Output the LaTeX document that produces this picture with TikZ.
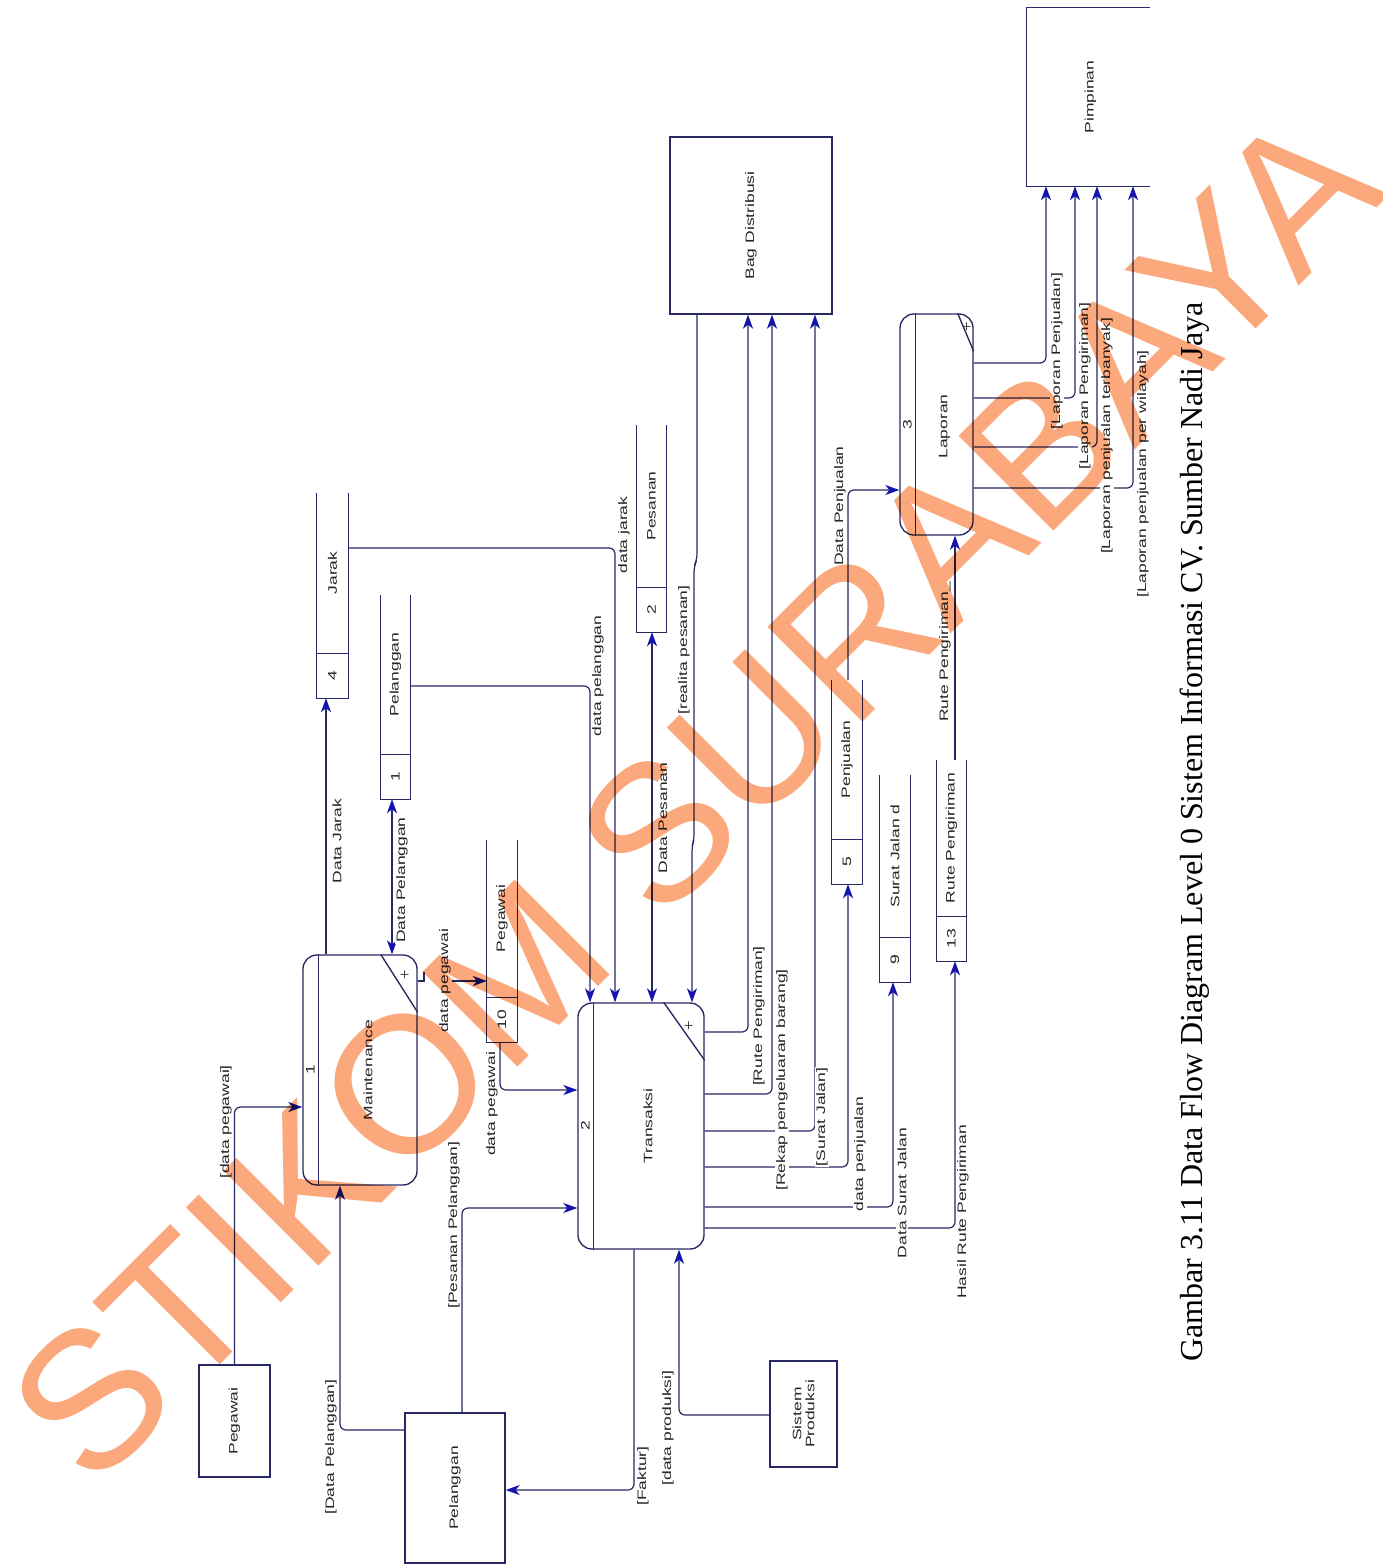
\documentclass[tikz,border=0pt]{standalone}
\usepackage{fontspec}
\setmainfont{Liberation Serif}
\newfontfamily\dfdsans[FakeStretch=1.42]{Liberation Sans}
\newfontfamily\wmsans{Liberation Sans}
\usetikzlibrary{arrows.meta,calc}
\definecolor{linec}{RGB}{40,40,100}
\definecolor{arrowc}{RGB}{20,20,175}
\definecolor{wmc}{RGB}{251,168,124}
\tikzset{
  shp/.style={draw=linec, line width=1.35pt},
  entity/.style={shp, rectangle, inner sep=0pt},
  proc/.style={shp, rectangle, rounded corners=14pt, inner sep=0pt},
  storebox/.style={rectangle, inner sep=0pt, minimum width=30pt},
  txt/.style={font=\dfdsans\fontsize{12.3}{13}\selectfont, rotate=90, inner sep=1pt, text=black!85},
  lbl/.style={txt, fill=white},
  plus/.style={font=\fontsize{17}{17}\selectfont, inner sep=0pt, text=black!85},
  flow/.style={draw=linec, line width=1.2pt, rounded corners=6pt, -{Stealth[length=14pt,width=10pt,inset=4pt,color=arrowc]}},
  flowtwo/.style={draw=linec, line width=1.2pt, rounded corners=6pt, {Stealth[length=14pt,width=10pt,inset=4pt,color=arrowc]}-{Stealth[length=14pt,width=10pt,inset=4pt,color=arrowc]}},
}
\newcommand{\mystore}[5]{%
  \node[storebox, minimum width=#3, minimum height=#4] (#1) at (#2) {};
  \draw[shp] (#1.north west) -- (#1.south west) -- (#1.south east) -- (#1.north east);
  \draw[shp] ([yshift=45pt]#1.south west) -- ([yshift=45pt]#1.south east);
  \node[txt] (#1num) at ([yshift=22.5pt]#1.south) {#5};
}
\begin{document}
\begin{tikzpicture}[x=1pt,y=-1pt]
\useasboundingbox (0,0) rectangle (1383,1568);
\fill[white] (0,0) rectangle (1383,1568);

% external entities
\node[entity, minimum width=71pt, minimum height=112pt] (pegE) at (234.5,1421) {};
\node[txt] (pegEl) at (pegE.center) {Pegawai};
\node[entity, minimum width=100pt, minimum height=150pt] (pelE) at (455,1488) {};
\node[txt] (pelEl) at (pelE.center) {Pelanggan};
\node[entity, minimum width=67pt, minimum height=106pt] (sisE) at (803.5,1414) {};
\node[txt, align=center] (sisEl) at (sisE.center) {Sistem\\Produksi};
\node[entity, minimum width=162pt, minimum height=177pt] (bagE) at (751,225.5) {};
\node[txt] (bagEl) at (bagE.center) {Bag Distribusi};
\node[rectangle, inner sep=0pt, minimum width=123pt, minimum height=178pt] (pimE) at (1088.5,97) {};
\draw[shp] (pimE.north east) -- (pimE.north west) -- (pimE.south west) -- (pimE.south east);
\node[txt] (pimEl) at ([xshift=2pt]pimE.center) {Pimpinan};

% processes
\node[proc, minimum width=114pt, minimum height=230pt] (p1) at (360,1070) {};
\draw[shp] ([xshift=16pt]p1.north west) -- ([xshift=16pt]p1.south west);
\draw[shp] ([xshift=-37pt]p1.north east) -- ([yshift=-58pt]p1.north east);
\node[plus] (p1plus) at ([xshift=-13pt,yshift=-21pt]p1.north east) {+};
\node[txt] (p1num) at ([xshift=8pt]p1.west) {1};
\node[txt] (p1lbl) at ([xshift=8pt]p1.center) {Maintenance};

\node[proc, minimum width=126pt, minimum height=246pt] (p2) at (641,1126) {};
\draw[shp] ([xshift=16pt]p2.north west) -- ([xshift=16pt]p2.south west);
\draw[shp] ([xshift=-41pt]p2.north east) -- ([yshift=-58pt]p2.north east);
\node[plus] (p2plus) at ([xshift=-16pt,yshift=-24pt]p2.north east) {+};
\node[txt] (p2num) at ([xshift=8pt]p2.west) {2};
\node[txt] (p2lbl) at ([xshift=7pt]p2.center) {Transaksi};

\node[proc, minimum width=73pt, minimum height=221pt] (p3) at (936.5,424.5) {};
\draw[shp] ([xshift=16pt]p3.north west) -- ([xshift=16pt]p3.south west);
\draw[shp] ([xshift=-16pt]p3.north east) -- ([yshift=-38pt]p3.north east);
\node[plus] (p3plus) at ([xshift=-7pt,yshift=-14pt]p3.north east) {+};
\node[txt] (p3num) at ([xshift=8pt]p3.west) {3};
\node[txt] (p3lbl) at ([xshift=8pt,yshift=-2pt]p3.center) {Laporan};

% data stores
\mystore{s4}{332.5,595.5}{31pt}{205pt}{4}
\node[txt] (s4l) at ($(s4.north)!0.5!([yshift=45pt]s4.south)$) {Jarak};
\mystore{s1}{395.5,697}{29pt}{204pt}{1}
\node[txt] (s1l) at ($(s1.north)!0.5!([yshift=45pt]s1.south)$) {Pelanggan};
\mystore{s10}{502,941}{30pt}{202pt}{10}
\node[txt] (s10l) at ($(s10.north)!0.5!([yshift=45pt]s10.south)$) {Pegawai};
\mystore{s2}{651.5,528.5}{29pt}{207pt}{2}
\node[txt] (s2l) at ($(s2.north)!0.5!([yshift=45pt]s2.south)$) {Pesanan};
\mystore{s5}{847,782}{30pt}{204pt}{5}
\node[txt] (s5l) at ($(s5.north)!0.5!([yshift=45pt]s5.south)$) {Penjualan};
\mystore{s9}{895,878.5}{30pt}{207pt}{9}
\node[txt] (s9l) at ($(s9.north)!0.5!([yshift=45pt]s9.south)$) {Surat Jalan d};
\mystore{s13}{951.5,860.5}{29pt}{201pt}{13}
\node[txt] (s13l) at ($(s13.north)!0.5!([yshift=45pt]s13.south)$) {Rute Pengiriman};

% flows
\draw[flow] (pegE.north) |- (p1.west |- 0,1107);
\draw[flow] (pelE.west |- 0,1430) -| (p1.south -| 340,0);
\draw[flow] (pelE.north -| 462,0) |- (p2.west |- 0,1208);
\draw[flow] (p2.south -| 634,0) |- (pelE.east |- 0,1490);
\draw[flow] (sisE.west |- 0,1415) -| (p2.south -| 679,0);
\draw[flow] (p1.north -| 326,0) -- (s4.south -| 326,0);
\draw[flowtwo] (p1.north -| 392,0) -- (s1.south -| 392,0);
\coordinate (c8a) at (424,981);
\coordinate (c8b) at (438,981);
\draw[shp, line width=1.2pt] (p1.east |- c8a) -- (c8a);
\draw[shp, line width=1.2pt] ([yshift=9pt]c8a) -- ([yshift=-1pt]c8a);
\draw[flow] (c8b) -- (s10.west |- c8b);
\draw[flow] (s10.south -| 500,0) |- (p2.west |- 0,1090);
\draw[flow] (s4.east |- 0,548) -| (p2.north -| 615,0);
\draw[flow] (s1.east |- 0,686) -| (p2.north -| 590,0);
\draw[flowtwo] (p2.north -| 652,0) -- (s2.south -| 652,0);
\draw[flow] (bagE.south -| 697,0) -- (697,560) -- (694,566) -- (694,840) -- (692,846) -- (p2.north -| 692,0);
\draw[flow] (p2.east |- 0,1032) -| (bagE.south -| 748,0);
\draw[flow] (p2.east |- 0,1094) -| (bagE.south -| 772,0);
\draw[flow] (p2.east |- 0,1131) -| (bagE.south -| 815,0);
\draw[flow] (p2.east |- 0,1167) -| (s5.south -| 848,0);
\draw[flow] (p2.east |- 0,1207) -| (s9.south -| 893,0);
\draw[flow] (p2.east |- 0,1228) -| (s13.south -| 955,0);
\draw[flow] (s5.north -| 848,0) |- (p3.west |- 0,490);
\draw[flow] (s13.north -| 955,0) -- (p3.south -| 955,0);
\draw[flow] (p3.east |- 0,363) -| (pimE.south -| 1046,0);
\draw[flow] (p3.east |- 0,398) -| (pimE.south -| 1075,0);
\draw[flow] (p3.east |- 0,447) -| (pimE.south -| 1097,0);
\draw[flow] (p3.east |- 0,488) -| (pimE.south -| 1133,0);

% flow labels
\node[lbl] (l1) at (226,1122) {[data pegawai]};
\node[lbl] (l2) at (331,1447) {[Data Pelanggan]};
\node[lbl] (l3) at (454,1225) {[Pesanan Pelanggan]};
\node[lbl] (l4) at (643,1476) {[Faktur]};
\node[lbl] (l5) at (668,1428) {[data produksi]};
\node[lbl] (l6) at (337,841) {Data Jarak};
\node[lbl] (l7) at (402,880) {Data Pelanggan};
\node[lbl] (l8) at (445,981) {data pegawai};
\node[lbl] (l9) at (492,1104) {data pegawai};
\node[lbl] (l10) at (624,535) {data jarak};
\node[lbl] (l11) at (598,676) {data pelanggan};
\node[lbl] (l12) at (663,818) {Data Pesanan};
\node[lbl] (l13) at (684,650) {[realita pesanan]};
\node[lbl] (l14) at (759,1016) {[Rute Pengiriman]};
\node[lbl] (l15) at (782,1080) {[Rekap pengeluaran barang]};
\node[lbl] (l16) at (822,1117) {[Surat Jalan]};
\node[lbl] (l17) at (860,1154) {data penjualan};
\node[lbl] (l18) at (902,1193) {Data Surat Jalan};
\node[lbl] (l19) at (963,1212) {Hasil Rute Pengiriman};
\node[lbl] (l20) at (840,506) {Data Penjualan};
\node[lbl] (l21) at (945,652) {Rute Pengiriman\_};
\node[lbl] (l22) at (1057,351) {[Laporan Penjualan]};
\node[lbl] (l23) at (1085,386) {[Laporan Pengiriman]};
\node[lbl] (l24) at (1107,436) {[Laporan penjualan terbanyak]};
\node[lbl] (l25) at (1143,474) {[Laporan penjualan per wilayah]};

% caption
\node[rotate=90, anchor=base, font=\fontsize{32}{36}\selectfont, inner sep=0pt] (cap) at (1202,832) {Gambar 3.11 Data Flow Diagram Level 0 Sistem Informasi CV. Sumber Nadi Jaya};

% watermark
\begin{scope}[blend mode=multiply]
\node[rotate=45, text=wmc, font=\wmsans\fontsize{195}{195}\selectfont, inner sep=0pt] (wm) at (694,796) {STIKOM SURABAYA};
\end{scope}
\end{tikzpicture}
\end{document}
